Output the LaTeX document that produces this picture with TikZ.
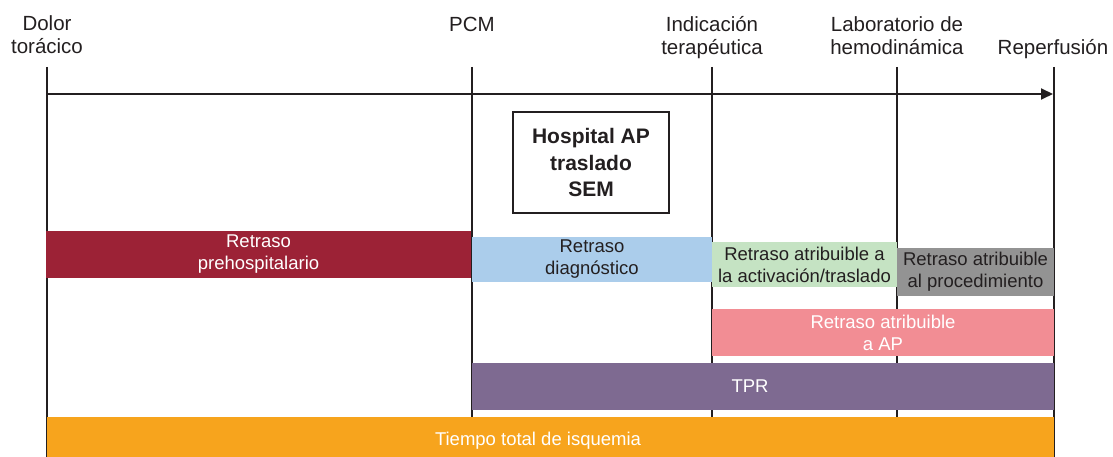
\documentclass[tikz,border=0pt]{standalone}
\usepackage{fontspec}
\setmainfont{Liberation Sans}
\usetikzlibrary{arrows.meta}
\definecolor{ink}{HTML}{231F20}
\definecolor{cred}{HTML}{9C2236}
\definecolor{cblue}{HTML}{ABCDEB}
\definecolor{cgreen}{HTML}{C5E3C3}
\definecolor{cgray}{HTML}{939393}
\definecolor{cpink}{HTML}{F28D94}
\definecolor{cpurple}{HTML}{7E6A91}
\definecolor{corange}{HTML}{F7A41D}
\begin{document}
\begin{tikzpicture}[x=1pt,y=-1pt,
  axisline/.style={draw=ink, line width=1.8pt},
  lbl/.style={text=ink, font=\fontsize{20.5}{23}\selectfont, align=center, inner sep=0pt, anchor=base},
  bar/.style={inner sep=0pt, font=\fontsize{18.5}{22}\selectfont, align=center},
  bartext/.style={inner sep=0pt, font=\fontsize{18.5}{22}\selectfont, text=white},
  hbox/.style={draw=ink, line width=1.8pt, fill=white, minimum width=156, minimum height=101, inner sep=0pt,
    align=center, text=ink, font=\fontsize{21}{26.5}\selectfont\bfseries}]
\useasboundingbox (0,0) rectangle (1113,457);
\clip (0,0) rectangle (1113,457);
% time marks
\coordinate (t1) at (47,67);   \coordinate (b1) at (47,470);
\coordinate (t2) at (472,67);  \coordinate (b2) at (472,470);
\coordinate (t3) at (712,67);  \coordinate (b3) at (712,470);
\coordinate (t4) at (897,67);  \coordinate (b4) at (897,470);
\coordinate (t5) at (1054,67); \coordinate (b5) at (1054,470);
\foreach \i in {1,...,5} { \draw[axisline] (t\i) -- (b\i); }
\coordinate (as) at (47,94);
\coordinate (ae) at (1053,94);
\draw[axisline, -{Triangle[length=12pt,width=11pt]}] (as) -- (ae);
% labels (base = baseline of the last line)
\node[lbl] (l1) at (47,54) {Dolor\\torácico};
\node[lbl] (l2) at (472,32) {PCM};
\node[lbl] (l3) at (712,55) {Indicación\\terapéutica};
\node[lbl] (l4) at (897,55) {Laboratorio de\\hemodinámica};
\node[lbl] (l5) at (1053,55) {Reperfusión};
% box
\node[hbox] (hosp) at (591,162.5) {Hospital AP\\traslado\\SEM};
% bars
\node[bar, fill=cred, text=white, minimum width=425, minimum height=47] (pre) at (258.5,254.5) {Retraso\\prehospitalario};
\node[bar, fill=cblue, text=ink, minimum width=240, minimum height=45] (diag) at (592,259.5) {Retraso\\diagnóstico};
\node[bar, fill=cgreen, text=ink, minimum width=185, minimum height=45] (act) at (804.5,264.5) {Retraso atribuible a\\la activación/traslado};
\node[bar, fill=cgray, text=ink, minimum width=157, minimum height=48] (proc) at (975.5,272) {Retraso atribuible\\al procedimiento};
\node[bar, fill=cpink, text=white, minimum width=342, minimum height=47] (ap) at (883,332.5) {Retraso atribuible\\a AP};
\node[bar, fill=cpurple, minimum width=582, minimum height=47] (tpr) at (763,386.5) {};
\node[bartext] (tprt) at (750,386.5) {TPR};
\node[bar, fill=corange, minimum width=1007, minimum height=47] (tot) at (550.5,440.5) {};
\node[bartext] (tott) at (538,440.5) {Tiempo total de isquemia};
\end{tikzpicture}
\end{document}
